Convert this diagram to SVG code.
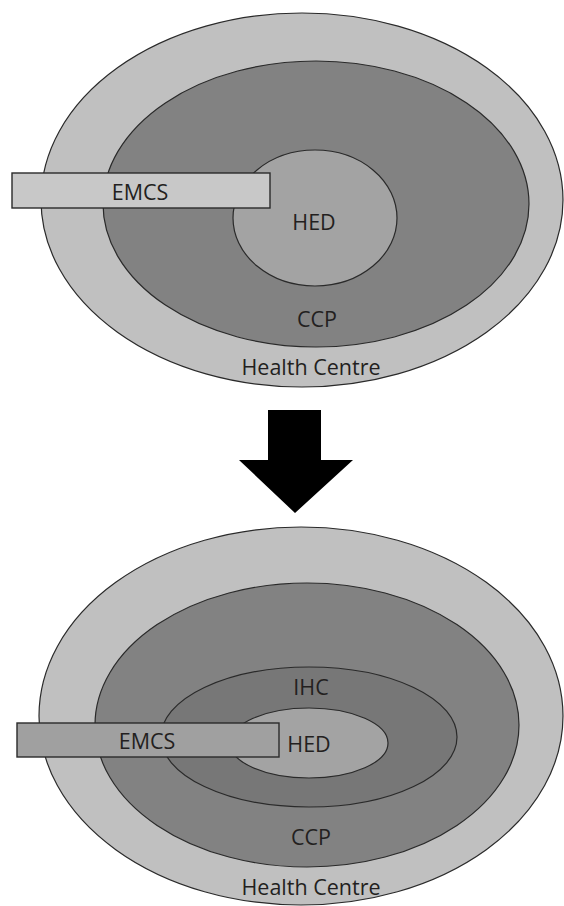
<svg xmlns="http://www.w3.org/2000/svg" width="564" height="906" viewBox="0 0 564 906">
<style>
.e{stroke:#2a2a2a;stroke-width:1.2}
.light{fill:#c0c0c0}
.mid{fill:#828282}
.ihc{fill:#777777}
.hed{fill:#a3a3a3}
.r{stroke:#2a2a2a;stroke-width:1.4}
text{font-family:"Open Sans","Noto Sans","Liberation Sans",sans-serif;font-size:21.5px;fill:#231f20;text-anchor:middle}
</style>
<rect width="564" height="906" fill="#ffffff"/>
<g id="top">
<g id="top-health-centre"><ellipse class="e light" cx="302" cy="200" rx="261" ry="187"/><text x="311" y="375">Health Centre</text></g>
<g id="top-ccp"><ellipse class="e mid" cx="316" cy="204" rx="213" ry="143"/><text x="317" y="327">CCP</text></g>
<g id="top-hed"><ellipse class="e hed" cx="315" cy="218" rx="82" ry="68"/><text x="314" y="230">HED</text></g>
<g id="top-emcs"><rect class="r" x="12" y="173" width="258" height="35" fill="#c8c8c8"/><text x="140" y="200">EMCS</text></g>
</g>
<g id="connectors">
<polygon points="268,410 321,410 321,460 353,460 295,513 239,460 268,460" fill="#000000"/>
</g>
<g id="bottom">
<g id="bottom-health-centre"><ellipse class="e light" cx="301" cy="716" rx="262" ry="189"/><text x="311" y="895">Health Centre</text></g>
<g id="bottom-ccp"><ellipse class="e mid" cx="307" cy="725" rx="212" ry="142"/><text x="311" y="845">CCP</text></g>
<g id="bottom-ihc"><ellipse class="e ihc" cx="309" cy="737" rx="148" ry="70"/><text x="311" y="695">IHC</text></g>
<g id="bottom-hed"><ellipse class="e hed" cx="309" cy="743" rx="79" ry="35"/><text x="309" y="752">HED</text></g>
<g id="bottom-emcs"><rect class="r" x="17" y="723" width="262" height="34" fill="#a0a0a0"/><text x="147" y="749">EMCS</text></g>
</g>
</svg>
